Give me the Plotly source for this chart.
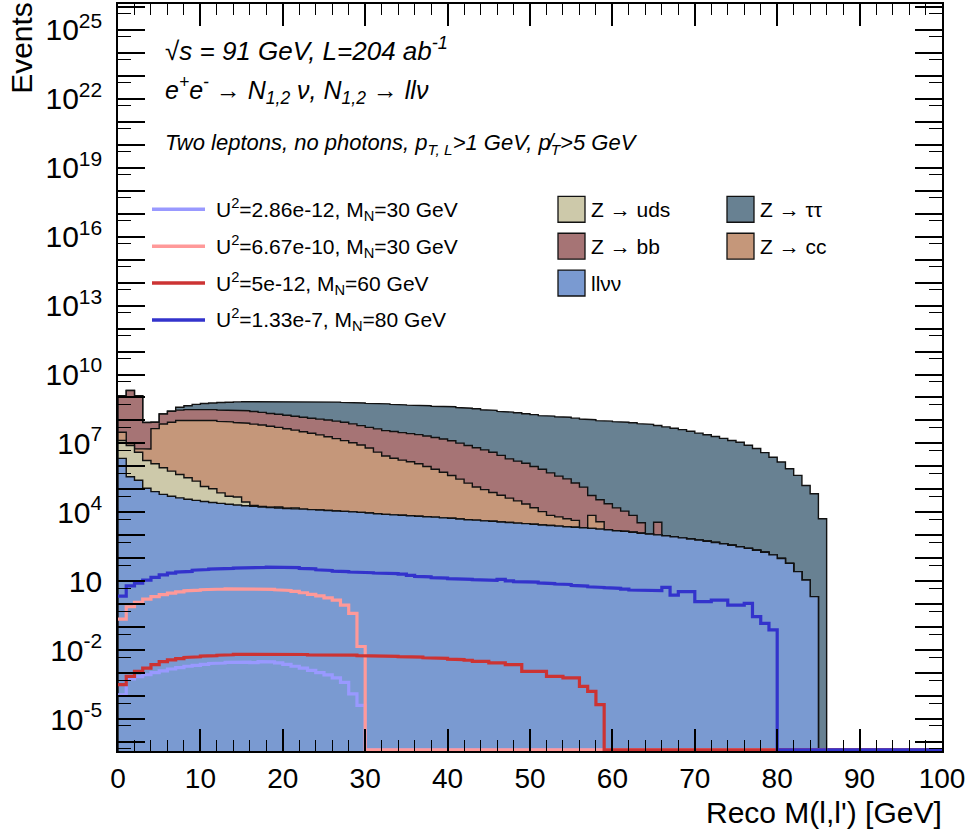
import numpy as np
import plotly.graph_objects as go

# ---------------- data (log10 of events per 1 GeV bin, None = empty bin) ----------------
N_BINS = 100
bin_edges = np.linspace(0.0, 100.0, N_BINS + 1)

llvv_log = [6.35, 5.55, 5.40, 5.05, 4.90, 4.78, 4.70, 4.63, 4.57, 4.52,
            4.47, 4.43, 4.39, 4.35, 4.32, 4.29, 4.26, 4.23, 4.21, 4.19,
            4.17, 4.15, 4.14, 4.12, 4.10, 4.08, 4.06, 4.04, 4.02, 4.00,
            3.97, 3.94, 3.91, 3.89, 3.87, 3.85, 3.83, 3.81, 3.79, 3.76,
            3.74, 3.71, 3.68, 3.66, 3.63, 3.61, 3.58, 3.56, 3.53, 3.51,
            3.48, 3.45, 3.43, 3.40, 3.37, 3.35, 3.33, 3.30, 3.27, 3.24,
            3.20, 3.17, 3.13, 3.09, 3.05, 3.02, 2.98, 2.94, 2.89, 2.84,
            2.79, 2.74, 2.69, 2.63, 2.57, 2.50, 2.43, 2.35, 2.26, 2.15,
            1.99, 1.78, 1.42, 1.05, 0.33]

uds_log = [7.05, 6.89, 6.59, 6.23, 6.09, 5.91, 5.76, 5.60, 5.45, 5.29,
           5.02, 4.90, 4.66, 4.44, 4.41, 3.94, 3.25, 3.00, 2.70, 3.20,
           2.50, 3.20]

cc_log = [7.24, 6.27, 6.21, 6.59, 7.63, 7.84, 7.92, 8.00, 8.00, 8.00,
          8.00, 8.00, 7.96, 7.94, 7.91, 7.88, 7.84, 7.80, 7.75, 7.70,
          7.64, 7.58, 7.51, 7.44, 7.37, 7.29, 7.21, 7.12, 7.03, 6.93,
          6.80, 6.62, 6.45, 6.35, 6.27, 6.20, 6.11, 5.99, 5.87, 5.74,
          5.60, 5.44, 5.26, 5.09, 4.97, 4.84, 4.71, 4.58, 4.45, 4.30,
          4.11, 3.90, 3.67, 3.58, 3.46, 3.35, None, 3.73, 3.31]

bb_log = [9.07, 9.30, 9.08, 7.88, 7.60, 8.08, 8.22, 8.26, 8.29, 8.30,
          8.30, 8.29, 8.29, 8.28, 8.30, 8.28, 8.25, 8.21, 8.16, 8.13,
          8.10, 8.06, 8.02, 7.99, 7.96, 7.93, 7.89, 7.85, 7.78, 7.71,
          7.64, 7.59, 7.52, 7.49, 7.44, 7.40, 7.36, 7.30, 7.24, 7.18,
          7.10, 7.00, 6.90, 6.80, 6.71, 6.61, 6.47, 6.32, 6.22, 6.13,
          5.99, 5.87, 5.71, 5.57, 5.45, 5.27, 5.09, 4.67, 4.50, 4.34,
          4.15, 3.99, 3.78, 3.36, None, 3.42]

tautau_log = [None, None, None, None, None, None, None, 7.97, 8.16, 8.30,
              8.39, 8.45, 8.50, 8.54, 8.56, 8.59, 8.61, 8.65, 8.67, 8.69,
              8.70, 8.71, 8.73, 8.74, 8.74, 8.73, 8.73, 8.72, 8.71, 8.71,
              8.70, 8.69, 8.69, 8.67, 8.65, 8.64, 8.63, 8.62, 8.60, 8.59,
              8.58, 8.55, 8.52, 8.50, 8.46, 8.43, 8.39, 8.36, 8.33, 8.29,
              8.25, 8.21, 8.19, 8.16, 8.14, 8.10, 8.06, 8.03, 7.99, 7.97,
              7.95, 7.92, 7.90, 7.86, 7.83, 7.78, 7.72, 7.66, 7.60, 7.53,
              7.45, 7.38, 7.30, 7.22, 7.13, 7.05, 6.92, 6.78, 6.60, 6.40,
              6.19, 5.90, 5.61, 5.17, 4.81, 3.72]

sig_u2_286em12_m30_log = [-3.95, -3.25, -3.15, -3.07, -2.98, -2.90, -2.82, -2.76, -2.70, -2.66,
                          -2.62, -2.58, -2.56, -2.53, -2.50, -2.52, -2.54, -2.50, -2.51, -2.55,
                          -2.62, -2.70, -2.78, -2.88, -2.98, -3.08, -3.21, -3.40, -3.90, -4.40]

sig_u2_667em10_m30_log = [-0.65, -0.11, 0.08, 0.22, 0.33, 0.42, 0.48, 0.54, 0.58, 0.61,
                          0.63, 0.65, 0.66, 0.67, 0.68, 0.68, 0.67, 0.67, 0.65, 0.63,
                          0.60, 0.56, 0.50, 0.43, 0.36, 0.28, 0.18, -0.04, -0.40, -1.84]

sig_u2_5em12_m60_log = [-3.50, -3.14, -2.92, -2.78, -2.63, -2.50, -2.42, -2.37, -2.32, -2.29,
                        -2.26, -2.24, -2.22, -2.20, -2.18, -2.19, -2.17, -2.18, -2.17, -2.18,
                        -2.19, -2.20, -2.19, -2.21, -2.20, -2.22, -2.21, -2.23, -2.22, -2.24,
                        -2.24, -2.25, -2.25, -2.27, -2.28, -2.28, -2.30, -2.33, -2.35, -2.36,
                        -2.39, -2.41, -2.44, -2.49, -2.49, -2.55, -2.55, -2.63, -2.63, -2.92,
                        -2.92, -2.92, -3.14, -3.14, -3.21, -3.21, -3.58, -3.79, -4.37]

sig_u2_133em7_m80_log = [0.35, 0.80, 0.92, 1.05, 1.17, 1.28, 1.35, 1.40, 1.43, 1.48,
                         1.51, 1.53, 1.55, 1.56, 1.57, 1.59, 1.60, 1.60, 1.61, 1.60,
                         1.60, 1.59, 1.56, 1.54, 1.50, 1.47, 1.44, 1.42, 1.40, 1.39,
                         1.37, 1.36, 1.34, 1.33, 1.31, 1.26, 1.21, 1.19, 1.16, 1.14,
                         1.11, 1.10, 1.08, 1.07, 1.05, 1.04, 1.08, 1.02, 0.98, 0.99,
                         0.96, 0.93, 0.90, 0.88, 0.86, 0.82, 0.79, 0.76, 0.73, 0.72,
                         0.69, 0.66, 0.62, 0.59, 0.59, 0.59, 0.73, 0.40, 0.55, 0.55,
                         0.11, 0.11, 0.18, 0.18, -0.04, -0.04, 0.04, -0.54, -0.83, -1.12]

bkg_names = ["llνν", "Z → uds", "Z → cc", "Z → bb", "Z → ττ"]
sig_names = ["U<sup>2</sup>=2.86e-12, M<sub>N</sub>=30 GeV",
             "U<sup>2</sup>=6.67e-10, M<sub>N</sub>=30 GeV",
             "U<sup>2</sup>=5e-12, M<sub>N</sub>=60 GeV",
             "U<sup>2</sup>=1.33e-7, M<sub>N</sub>=80 GeV"]

x_tick_vals = list(range(0, 101, 10))
y_label_exponents = [25, 22, 19, 16, 13, 10, 7, 4, 1, -2, -5]

# ---------------- styling ----------------
FONT = "Liberation Sans, Arial, Helvetica, sans-serif"
bkg_colors = ["#7a9ad1", "#cdc9aa", "#c5977a", "#a67475", "#688192"]
sig_colors = ["#9999ff", "#ff9999", "#cc3333", "#3333cc"]
Y_MIN_LOG, Y_MAX_LOG = -6.39, 26.13

W, H = 969, 829
PX0, PX1, PY0, PY1 = 118, 942, 2, 751.5


def px(x):
    return (x - PX0) / (PX1 - PX0)


def py(y):
    return (PY1 - y) / (PY1 - PY0)


def counts(logs):
    out = np.zeros(N_BINS)
    for i, v in enumerate(logs):
        if v is not None:
            out[i] = 10.0 ** v
    return out


bkg = [counts(a) for a in (llvv_log, uds_log, cc_log, bb_log, tautau_log)]
sigs = [counts(a) for a in (sig_u2_286em12_m30_log, sig_u2_667em10_m30_log,
                            sig_u2_5em12_m60_log, sig_u2_133em7_m80_log)]
levels = np.cumsum(np.vstack(bkg), axis=0)

step_x = np.repeat(bin_edges, 2)[1:-1]
fill_floor = 10.0 ** (Y_MIN_LOG - 3)
sig_floor = 10.0 ** (Y_MIN_LOG + 0.045)

fig = go.Figure()

# stacked backgrounds: draw from the top of the stack downwards
for k in range(len(bkg) - 1, -1, -1):
    lev = levels[k]
    ys = np.repeat(np.where(lev > 0, lev, fill_floor), 2)
    xs = np.concatenate([[0.0], step_x, [100.0]])
    ys = np.concatenate([[fill_floor], ys, [fill_floor]])
    fig.add_trace(go.Scatter(x=xs, y=ys, mode="lines", fill="toself",
                             fillcolor=bkg_colors[k],
                             line=dict(color="#111111", width=1.4),
                             name=bkg_names[k], showlegend=False,
                             hoverinfo="skip"))

# signal histograms
for s, col, name in zip(sigs, sig_colors, sig_names):
    ys = np.repeat(np.where(s > 0, s, sig_floor), 2)
    fig.add_trace(go.Scatter(x=step_x, y=ys, mode="lines",
                             line=dict(color=col, width=3.2),
                             name=name, showlegend=False, hoverinfo="skip"))

# invisible anchor so the tick-only overlay axis is rendered
fig.add_trace(go.Scatter(x=[50], y=[1.0], yaxis="y2", mode="markers",
                         marker=dict(opacity=0), showlegend=False, hoverinfo="skip"))

# ---------------- annotations / legend ----------------
ann = []
shapes = []

ann.append(dict(text="Events", x=px(22), y=py(46), xref="paper", yref="paper",
                textangle=-90, showarrow=False, xanchor="center", yanchor="middle",
                font=dict(size=30, family=FONT, color="black")))
ann.append(dict(text="Reco M(l,l') [GeV]", x=px(944), y=py(813), xref="paper", yref="paper",
                showarrow=False, xanchor="right", yanchor="middle",
                font=dict(size=30, family=FONT, color="black")))

header = [("<i>√s = 91 GeV, L=204 ab<sup>-1</sup></i>", 48, 26),
          ("<i>e<sup>+</sup>e<sup>-</sup> → N<sub>1,2</sub> ν, N<sub>1,2</sub> → llν</i>", 88, 25),
          ("<i>Two leptons, no photons, p<sub>T, L</sub>&gt;1 GeV, p\u0338<sub>T</sub>&gt;5 GeV</i>", 142, 22)]
for txt, yy, sz in header:
    ann.append(dict(text=txt, x=px(163), y=py(yy), xref="paper", yref="paper",
                    showarrow=False, xanchor="left", yanchor="middle",
                    font=dict(size=sz, family=FONT, color="black")))

sig_rows = [208, 245, 282, 319]
for name, col, yy in zip(sig_names, sig_colors, sig_rows):
    shapes.append(dict(type="line", xref="paper", yref="paper",
                       x0=px(152), x1=px(205), y0=py(yy), y1=py(yy),
                       line=dict(color=col, width=3.5)))
    ann.append(dict(text=name, x=px(214), y=py(yy), xref="paper", yref="paper",
                    showarrow=False, xanchor="left", yanchor="middle",
                    font=dict(size=21, family=FONT, color="black")))

# background legend: (index, column x of box, row y)
bkg_leg = [(1, 558, 208), (4, 727, 208), (3, 558, 245), (2, 727, 245), (0, 558, 282)]
for idx, bx, yy in bkg_leg:
    shapes.append(dict(type="rect", xref="paper", yref="paper",
                       x0=px(bx), x1=px(bx + 27), y0=py(yy + 13), y1=py(yy - 13),
                       fillcolor=bkg_colors[idx], line=dict(color="#111111", width=1.3)))
    ann.append(dict(text=bkg_names[idx], x=px(bx + 31), y=py(yy), xref="paper", yref="paper",
                    showarrow=False, xanchor="left", yanchor="middle",
                    font=dict(size=21, family=FONT, color="black")))

# y ticks: labelled decades (major), unlabelled decades (minor, same length),
# and short ticks at 5x10^k on a tick-only overlay axis
y_major_vals = [10.0 ** k for k in y_label_exponents]
y_major_text = ["10" if k == 1 else "10<sup>%d</sup>" % k for k in y_label_exponents]
y_other_decades = [10.0 ** k for k in range(-6, 27) if k not in y_label_exponents]
y_half_vals = [5.0 * 10.0 ** (k - 1) for k in range(-6, 27)]

fig.update_layout(
    width=W, height=H,
    margin=dict(l=PX0, r=W - PX1, t=PY0, b=H - PY1),
    paper_bgcolor="white", plot_bgcolor="white",
    font=dict(family=FONT, color="black"),
    showlegend=False,
    annotations=ann, shapes=shapes,
    xaxis=dict(range=[0, 100], showgrid=False, zeroline=False,
               showline=True, linecolor="black", linewidth=1.6, mirror="ticks",
               ticks="inside", ticklen=22, tickwidth=1.5, tickcolor="black",
               tickvals=x_tick_vals, ticktext=[str(v) for v in x_tick_vals],
               tickfont=dict(size=28, family=FONT), ticklabelstandoff=2,
               minor=dict(dtick=2, tick0=0, ticks="inside", ticklen=11,
                          tickwidth=1.3, tickcolor="black", showgrid=False)),
    yaxis=dict(type="log", range=[Y_MIN_LOG, Y_MAX_LOG], showgrid=False, zeroline=False,
               showline=True, linecolor="black", linewidth=1.6, mirror="ticks",
               ticks="inside", ticklen=27, tickwidth=1.5, tickcolor="black",
               tickmode="array", tickvals=y_major_vals, ticktext=y_major_text,
               tickfont=dict(size=30, family=FONT), ticklabelstandoff=8,
               minor=dict(tickmode="array", tickvals=y_other_decades, ticks="inside",
                          ticklen=27, tickwidth=1.5, tickcolor="black", showgrid=False)),
    yaxis2=dict(type="log", range=[Y_MIN_LOG, Y_MAX_LOG], overlaying="y", side="left",
                showgrid=False, zeroline=False, showline=True, linecolor="black",
                linewidth=1.6, mirror="ticks", ticks="inside", ticklen=13, tickwidth=1.3,
                tickcolor="black", tickmode="array", tickvals=y_half_vals,
                showticklabels=False),
)

fig.write_html("out.html")
